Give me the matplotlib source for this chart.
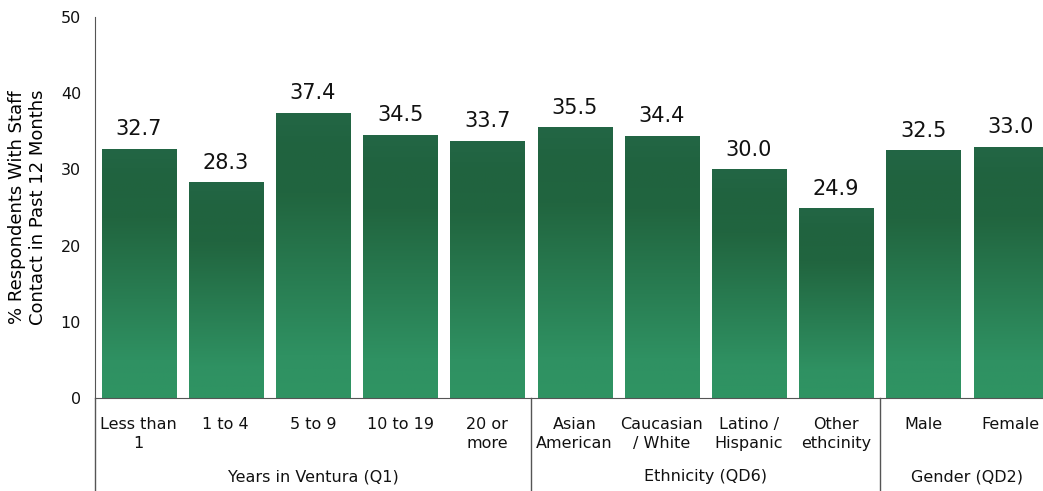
import numpy as np
import matplotlib.pyplot as plt
from matplotlib.colors import LinearSegmentedColormap
from matplotlib.transforms import blended_transform_factory

labels = ["Less than\n1", "1 to 4", "5 to 9", "10 to 19", "20 or\nmore",
          "Asian\nAmerican", "Caucasian\n/ White", "Latino /\nHispanic", "Other\nethcinity",
          "Male", "Female"]
values = [32.7, 28.3, 37.4, 34.5, 33.7, 35.5, 34.4, 30.0, 24.9, 32.5, 33.0]
groups = ["Years in Ventura (Q1)", "Ethnicity (QD6)", "Gender (QD2)"]
group_sizes = [5, 4, 2]

plt.rcParams['font.family'] = 'DejaVu Sans'

fig = plt.figure(figsize=(10.43, 4.91), dpi=100)
W, H = 1043, 491
ax = fig.add_axes([95 / W, (H - 398) / H, (1043 - 95) / W, (398 - 17) / H])

x = np.arange(len(values))
# dark at the top, lighter green towards the base
cmap = LinearSegmentedColormap.from_list(
    "grn", [(0.0, "#2f9463"), (0.15, "#2f9162"), (0.72, "#21653f"), (0.88, "#20633f"), (1.0, "#236645")])
grad = np.linspace(0, 1, 256).reshape(-1, 1)

bars = ax.bar(x, values, width=0.85, color="none", edgecolor="none")
for b in bars:
    x0, w, h = b.get_x(), b.get_width(), b.get_height()
    im = ax.imshow(grad, cmap=cmap, origin="lower", aspect="auto",
                   extent=[x0, x0 + w, 0, h], zorder=2)
    im.set_clip_path(b)

for xi, v in zip(x, values):
    ax.annotate(f"{v:.1f}", (xi, v), xytext=(0, 7), textcoords="offset points",
                ha="center", va="bottom", fontsize=15, color="#111111")

ax.set_xlim(-0.5, -0.5 + (1043 - 95) / 87.2)
ax.set_ylim(0, 50)
ax.set_yticks(range(0, 51, 10))
ax.set_xticks(x)
ax.set_xticklabels(labels, fontsize=11.5, linespacing=1.3)
ax.tick_params(axis="both", length=0, colors="#111111", labelsize=11.5)
ax.tick_params(axis="x", pad=14)
ax.tick_params(axis="y", pad=10)

for s in ["top", "right"]:
    ax.spines[s].set_visible(False)
ax.spines["left"].set_color("#555555")
ax.spines["bottom"].set_color("#555555")

ax.set_ylabel("% Respondents With Staff\nContact in Past 12 Months", fontsize=13, labelpad=10)

# group separators and group names under the ticks
trans = blended_transform_factory(ax.transData, ax.transAxes)
bottom_ax = -(H - 398) / (398 - 17)
start = -0.5
for g, n in zip(groups, group_sizes):
    ax.plot([start, start], [0, bottom_ax], transform=trans, color="#555555",
            lw=1, clip_on=False)
    ax.text(start + n / 2, -(477 - 398) / (398 - 17), g, transform=trans,
            ha="center", va="center", fontsize=11.5, color="#111111")
    start += n

fig.savefig("out.png", dpi=100)
